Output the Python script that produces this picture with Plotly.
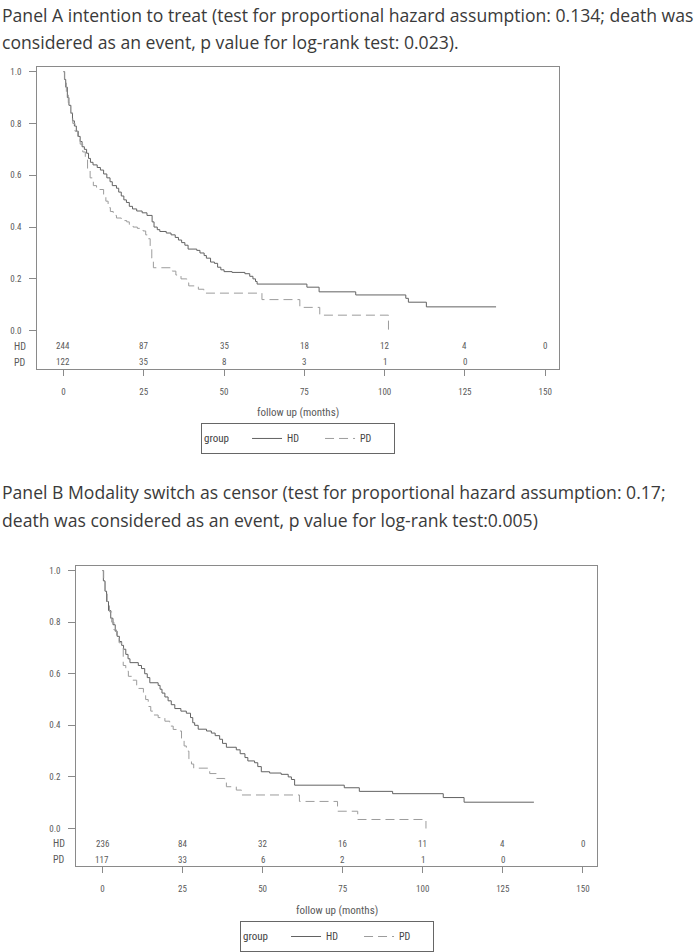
import plotly.graph_objects as go

# ---------------- data ----------------
months_ticks = [0, 25, 50, 75, 100, 125, 150]

# Panel A (intention to treat)
a_hd_t = [0, 0.3, 0.7, 1.2, 1.7, 2.3, 2.8, 3.4, 4.0, 4.6, 5.2, 5.8, 6.5, 7.2, 7.8, 8.4, 9.2, 10.5, 11.5,
          12.5, 13.5, 14.5, 15.2, 16.5, 17.2, 18.0, 18.8, 19.6, 20.5, 21.5, 22.8, 24.5, 26.0, 27.6, 28.2,
          29.2, 30.0, 32.0, 33.5, 34.8, 35.8, 36.8, 37.8, 38.8, 41.5, 42.5, 43.8, 44.5, 45.8, 47.0, 48.0,
          49.0, 50.0, 52.5, 56.5, 58.0, 59.0, 59.8, 60.3, 75.8, 79.6, 91.0, 106.6, 107.4, 113.0, 134.7]
a_hd_s = [1.0, 0.97, 0.94, 0.90, 0.87, 0.84, 0.81, 0.79, 0.77, 0.75, 0.73, 0.71, 0.70, 0.685, 0.665, 0.65,
          0.64, 0.63, 0.62, 0.605, 0.59, 0.575, 0.56, 0.55, 0.535, 0.52, 0.505, 0.495, 0.48, 0.47, 0.462,
          0.455, 0.445, 0.42, 0.40, 0.39, 0.383, 0.377, 0.37, 0.36, 0.35, 0.34, 0.33, 0.315, 0.31, 0.30,
          0.29, 0.28, 0.265, 0.26, 0.245, 0.235, 0.228, 0.225, 0.22, 0.21, 0.20, 0.19, 0.18, 0.168, 0.15,
          0.138, 0.125, 0.11, 0.092, 0.092]
a_pd_t = [0, 0.4, 0.9, 1.5, 2.2, 2.9, 3.6, 4.4, 5.2, 6.0, 6.8, 7.5, 8.3, 9.3, 10.3, 12.5, 13.2, 13.9, 14.6,
          15.5, 16.5, 18.0, 19.7, 20.5, 21.7, 23.0, 24.8, 25.6, 26.4, 27.0, 27.5, 28.0, 33.9, 35.0, 36.6,
          38.4, 39.0, 42.0, 43.7, 61.8, 73.6, 79.8, 101.2]
a_pd_s = [1.0, 0.96, 0.92, 0.88, 0.84, 0.80, 0.77, 0.74, 0.72, 0.69, 0.66, 0.62, 0.59, 0.56, 0.545, 0.52,
          0.50, 0.475, 0.46, 0.445, 0.435, 0.425, 0.42, 0.41, 0.40, 0.395, 0.385, 0.37, 0.355, 0.32, 0.28,
          0.243, 0.23, 0.215, 0.20, 0.185, 0.173, 0.16, 0.145, 0.12, 0.09, 0.06, 0.0]
a_risk_hd = [244, 87, 35, 18, 12, 4, 0]
a_risk_pd = [122, 35, 8, 3, 1, 0]

# Panel B (modality switch as censor)
b_hd_t = [0, 0.3, 0.8, 1.3, 1.9, 2.6, 3.3, 4.0, 4.6, 5.3, 6.0, 6.6, 7.3, 8.0, 8.6, 11.2, 12.2, 13.2, 14.0,
          14.8, 17.4, 18.0, 18.6, 19.5, 20.5, 21.5, 22.6, 24.5, 26.2, 27.5, 28.2, 28.8, 29.9, 32.5, 34.0,
          35.2, 36.6, 37.5, 38.7, 41.8, 43.0, 44.5, 45.4, 47.5, 48.5, 49.6, 52.2, 55.8, 58.0, 59.0, 60.0,
          75.5, 80.2, 90.6, 106.4, 112.9, 134.7]
b_hd_s = [1.0, 0.96, 0.92, 0.88, 0.845, 0.815, 0.79, 0.765, 0.745, 0.725, 0.71, 0.695, 0.675, 0.658, 0.643,
          0.632, 0.62, 0.60, 0.585, 0.565, 0.555, 0.54, 0.525, 0.51, 0.495, 0.48, 0.465, 0.455, 0.447, 0.43,
          0.41, 0.40, 0.385, 0.378, 0.37, 0.36, 0.346, 0.33, 0.315, 0.305, 0.29, 0.275, 0.262, 0.255, 0.24,
          0.22, 0.215, 0.21, 0.20, 0.19, 0.168, 0.158, 0.144, 0.135, 0.12, 0.102, 0.102]
b_pd_t = [0, 0.4, 0.9, 1.5, 2.2, 2.9, 3.6, 4.4, 5.2, 6.0, 6.5, 7.3, 8.1, 9.5, 10.7, 12.8, 13.5, 14.3, 15.1,
          15.9, 17.4, 19.5, 21.0, 22.1, 24.2, 24.7, 25.5, 26.2, 27.0, 27.8, 28.5, 33.5, 35.6, 38.2, 38.7,
          41.8, 43.4, 61.5, 73.4, 79.7, 101.0]
b_pd_s = [1.0, 0.96, 0.92, 0.88, 0.84, 0.80, 0.77, 0.745, 0.72, 0.70, 0.632, 0.61, 0.59, 0.575, 0.543,
          0.524, 0.50, 0.473, 0.455, 0.44, 0.43, 0.416, 0.397, 0.384, 0.378, 0.346, 0.32, 0.30, 0.27, 0.25,
          0.234, 0.213, 0.194, 0.187, 0.162, 0.149, 0.13, 0.105, 0.067, 0.035, 0.0]
b_risk_hd = [236, 84, 32, 16, 11, 4, 0]
b_risk_pd = [117, 33, 6, 2, 1, 0]

title_a = ["Panel A intention to treat (test for proportional hazard assumption: 0.134; death was",
           "considered as an event, p value for log-rank test: 0.023)."]
title_b = ["Panel B Modality switch as censor (test for proportional hazard assumption: 0.17;",
           "death was considered as an event, p value for log-rank test:0.005)"]

# ---------------- style / layout ----------------
W, H = 697, 952
TXT = "Liberation Sans Narrow, Roboto Condensed, Liberation Sans, sans-serif"
TITLE_FONT = "Open Sans, Calibri, Carlito, sans-serif"
SOLID_C = "#626262"
DASH_C = "#9c9c9c"
FRAME_C = "#8a8a8a"
LBL_C = "#5a5a5a"
XR = [-8.15, 154.3]
YR = [-0.147, 1.0165]


def px(x):
    return x / W


def py(y):
    return 1 - y / H


panels = [
    dict(frame=(37.3, 68.0, 559.0, 372.3), xa="xaxis", ya="yaxis", xr="x", yr="y", leg="legend",
         hd=(a_hd_t, a_hd_s), pd=(a_pd_t, a_pd_s), rhd=a_risk_hd, rpd=a_risk_pd,
         title=title_a, ty=(15, 42), xt_y=416, leg_pos=(201, 427)),
    dict(frame=(76.3, 571.7, 596.7, 874.7), xa="xaxis2", ya="yaxis2", xr="x2", yr="y2", leg="legend2",
         hd=(b_hd_t, b_hd_s), pd=(b_pd_t, b_pd_s), rhd=b_risk_hd, rpd=b_risk_pd,
         title=title_b, ty=(497, 525), xt_y=919, leg_pos=(240, 930)),
]

fig = go.Figure()
annotations = []
layout = dict(width=W, height=H, margin=dict(l=0, r=0, t=0, b=0),
              paper_bgcolor="white", plot_bgcolor="white", showlegend=True)

for p in panels:
    l, t, r, b = p["frame"]
    fig.add_trace(go.Scatter(x=p["hd"][0], y=p["hd"][1], mode="lines", name="HD",
                             line=dict(color=SOLID_C, width=1, shape="hv"),
                             xaxis=p["xr"], yaxis=p["yr"], legend=p["leg"]))
    fig.add_trace(go.Scatter(x=p["pd"][0], y=p["pd"][1], mode="lines", name="PD",
                             line=dict(color=DASH_C, width=1, shape="hv", dash="9px,5px"),
                             xaxis=p["xr"], yaxis=p["yr"], legend=p["leg"]))
    layout[p["xa"]] = dict(domain=[px(l), px(r)], range=XR, anchor=p["yr"],
                           tickvals=months_ticks, ticktext=[str(v) for v in months_ticks],
                           ticks="outside", ticklen=6, tickcolor=FRAME_C, ticklabelstandoff=8,
                           showline=True, linecolor=FRAME_C, linewidth=1, mirror=True,
                           showgrid=False, zeroline=False,
                           tickfont=dict(family=TXT, size=9, color=LBL_C))
    layout[p["ya"]] = dict(domain=[py(b), py(t)], range=YR, anchor=p["xr"],
                           tickvals=[0, 0.2, 0.4, 0.6, 0.8, 1.0], tickformat=".1f",
                           ticks="outside", ticklen=7, tickcolor=FRAME_C, ticklabelstandoff=6,
                           showline=True, linecolor=FRAME_C, linewidth=1, mirror=True,
                           showgrid=False, zeroline=False,
                           tickfont=dict(family=TXT, size=9, color=LBL_C))
    lx, ly = p["leg_pos"]
    layout[p["leg"]] = dict(x=px(lx), y=py(ly), xanchor="left", yanchor="top", orientation="h",
                            bordercolor="#666666", borderwidth=1, bgcolor="white",
                            font=dict(family=TXT, size=10, color="#444444"),
                            title=dict(text='<span style="font-size:11px">group&nbsp;&nbsp;&nbsp;&nbsp;</span>',
                                       side="left",
                                       font=dict(family=TXT, size=14, color="#444444")),
                            itemwidth=30, entrywidth=28, entrywidthmode="pixels", tracegroupgap=0)
    # risk table
    for i, v in enumerate(p["rhd"]):
        annotations.append(dict(x=months_ticks[i], y=-0.06, xref=p["xr"], yref=p["yr"], text=str(v),
                                showarrow=False, yanchor="middle",
                                font=dict(family=TXT, size=9, color=LBL_C)))
    for i, v in enumerate(p["rpd"]):
        annotations.append(dict(x=months_ticks[i], y=-0.121, xref=p["xr"], yref=p["yr"], text=str(v),
                                showarrow=False, yanchor="middle",
                                font=dict(family=TXT, size=9, color=LBL_C)))
    for lab, yv in (("HD", -0.06), ("PD", -0.121)):
        annotations.append(dict(x=px(l - 9), y=yv, xref="paper", yref=p["yr"], text=lab,
                                xanchor="right", yanchor="middle", showarrow=False,
                                font=dict(family=TXT, size=10, color=LBL_C)))
    # x axis title
    annotations.append(dict(x=px((l + r) / 2), y=py(p["xt_y"]), xref="paper", yref="paper",
                            text="follow up (months)", showarrow=False,
                            xanchor="center", yanchor="middle",
                            font=dict(family=TXT, size=11, color=LBL_C)))
    # panel title lines
    for txt, yy in zip(p["title"], p["ty"]):
        annotations.append(dict(x=0, y=py(yy), xref="paper", yref="paper", text=txt,
                                xanchor="left", yanchor="middle", showarrow=False,
                                font=dict(family=TITLE_FONT, size=17.6, color="#3a3a3a")))

layout["annotations"] = annotations
fig.update_layout(**layout)
fig.write_html("out.html", config={"displayModeBar": False},
               post_script="document.body.style.margin='0px';")
